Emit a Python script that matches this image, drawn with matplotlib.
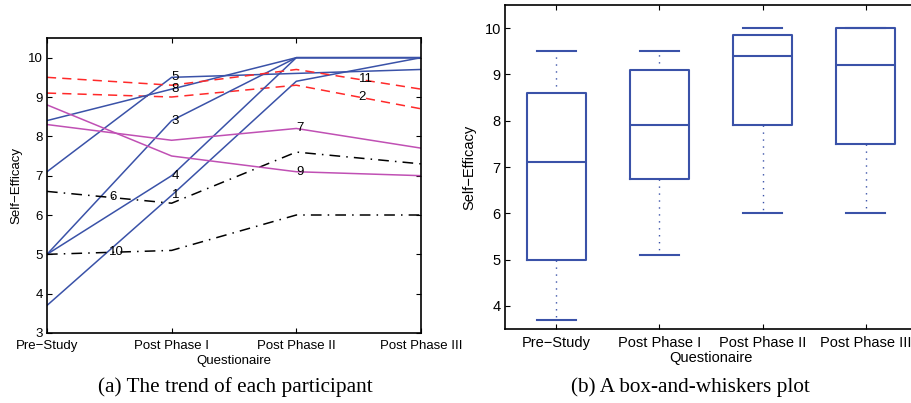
import numpy as np
import matplotlib
matplotlib.use("Agg")
import matplotlib.pyplot as plt

plt.rcParams["font.family"] = ["Liberation Sans", "DejaVu Sans"]

stages = ["Pre\u2212Study", "Post Phase I", "Post Phase II", "Post Phase III"]

# per-participant self-efficacy scores (Pre, PI, PII, PIII)
participants = ["1", "2", "3", "4", "5", "6", "7", "8", "9", "10", "11"]
scores = [
    [3.7, 6.5, 9.4, 10.0],
    [9.1, 9.0, 9.3, 8.7],
    [5.0, 8.4, 10.0, 10.0],
    [5.0, 7.0, 10.0, 10.0],
    [7.1, 9.5, 9.6, 9.7],
    [6.6, 6.3, 7.6, 7.3],
    [8.3, 7.9, 8.2, 7.7],
    [8.4, 9.2, 10.0, 10.0],
    [8.8, 7.5, 7.1, 7.0],
    [5.0, 5.1, 6.0, 6.0],
    [9.5, 9.3, 9.7, 9.2],
]
groups = ["up", "down", "up", "up", "up", "mid", "flat", "up", "flat", "mid", "down"]
# where the number label sits along each trace (stage index, 1-based)
label_at = [2, 3.5, 2, 2, 2, 1.5, 3, 2, 3, 1.5, 3.5]

# box-and-whisker summary
box_lo   = [3.7, 5.1, 6.0, 6.0]
box_q1   = [5.0, 6.75, 7.9, 7.5]
box_med  = [7.1, 7.9, 9.4, 9.2]
box_q3   = [8.6, 9.1, 9.85, 10.0]
box_hi   = [9.5, 9.5, 10.0, 10.0]

BLUE = "#3a52a8"
MAGENTA = "#c050b4"
RED = "#ff2a2a"
styles = {
    "up":   dict(color=BLUE, ls="-"),
    "flat": dict(color=MAGENTA, ls="-"),
    "down": dict(color=RED, ls=(0, (6, 4))),
    "mid":  dict(color="black", ls=(0, (7, 4, 1, 4))),
}

FS_A = 9.5   # panel (a) text size
FS_B = 10.5  # panel (b) was scaled up a little in the original

fig = plt.figure(figsize=(9.12, 4.03), dpi=100)
fig.patch.set_facecolor("white")

# --- (a) trend of each participant -------------------------------------------
ax = fig.add_axes([0.0515, 0.1737, 0.4101, 0.732])
xs = np.arange(1, len(stages) + 1)
for pid, row, grp, lx in zip(participants, scores, groups, label_at):
    ax.plot(xs, row, lw=1.1, **styles[grp])
    ax.text(lx, np.interp(lx, xs, row), pid, ha="left", va="center",
            fontsize=FS_A)
ax.set_xlim(1, 4)
ax.set_ylim(3, 10.5)
ax.set_xticks(xs)
ax.set_xticklabels(stages)
ax.set_yticks(range(3, 11))
ax.set_xlabel("Questionaire", fontsize=FS_A, labelpad=2)
ax.set_ylabel("Self\u2212Efficacy", fontsize=FS_A, labelpad=4)
ax.tick_params(labelsize=FS_A)

# --- (b) box-and-whiskers ----------------------------------------------------
ax2 = fig.add_axes([0.5537, 0.1836, 0.4518, 0.804])
stats = [dict(whislo=lo, q1=q1, med=md, q3=q3, whishi=hi, fliers=[])
         for lo, q1, md, q3, hi in zip(box_lo, box_q1, box_med, box_q3, box_hi)]
ax2.bxp(stats, positions=xs, widths=0.57, capwidths=0.38, showfliers=False,
        boxprops=dict(color=BLUE, lw=1.5),
        medianprops=dict(color=BLUE, lw=1.5),
        whiskerprops=dict(color=BLUE, lw=1.0, ls=(0, (1, 4))),
        capprops=dict(color=BLUE, lw=1.5))
ax2.set_xlim(0.5, 4.5)
ax2.set_ylim(3.5, 10.5)
ax2.set_xticks(xs)
ax2.set_xticklabels(stages)
ax2.set_yticks(range(4, 11))
ax2.set_xlabel("Questionaire", fontsize=FS_B, labelpad=1)
ax2.set_ylabel("Self\u2212Efficacy", fontsize=FS_B, labelpad=6)
ax2.tick_params(labelsize=FS_B)

for a in (ax, ax2):
    a.tick_params(direction="in", top=True, right=True, length=3.5)
    a.tick_params(axis="x", pad=5)
    a.tick_params(axis="y", pad=3)
    for s in a.spines.values():
        s.set_linewidth(1.2)

fig.text(0.258, 0.040, "(a) The trend of each participant", ha="center",
         va="center", fontsize=15.3, family="Liberation Serif")
fig.text(0.757, 0.040, "(b) A box-and-whiskers plot", ha="center",
         va="center", fontsize=15.3, family="Liberation Serif")

fig.savefig("out.png", dpi=100)
